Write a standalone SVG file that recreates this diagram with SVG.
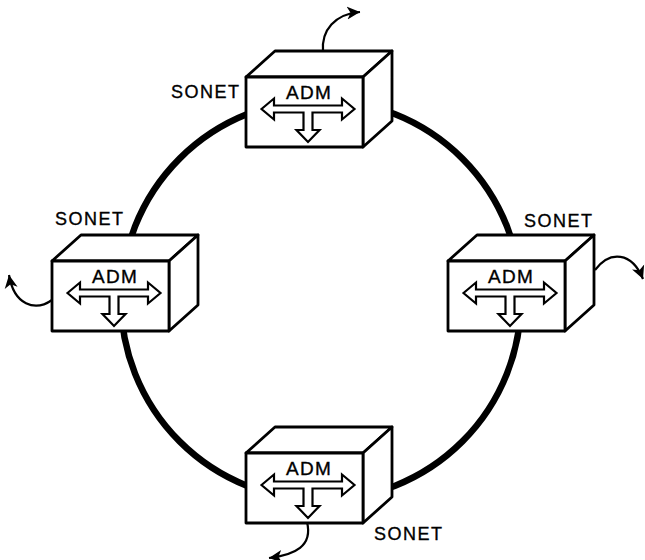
<svg xmlns="http://www.w3.org/2000/svg" xmlns:xlink="http://www.w3.org/1999/xlink" width="645" height="560" viewBox="0 0 645 560">
  <style>
    .ring { fill: none; stroke: #000; stroke-width: 6.5; }
    .face { fill: #fff; stroke: #000; stroke-width: 2.8; stroke-linejoin: round; }
    .flow { fill: #fff; stroke: #000; stroke-width: 2.2; stroke-linejoin: miter; }
    .drop { fill: none; stroke: #000; stroke-width: 2.2; }
    .adm { font-family: "Liberation Sans", Arial, sans-serif; font-size: 19px; letter-spacing: 1.3px; text-anchor: middle; fill: #000; stroke: #000; stroke-width: 0.35; }
    .lbl { font-family: "Liberation Sans", Arial, sans-serif; font-size: 18px; letter-spacing: 1.5px; fill: #000; stroke: #000; stroke-width: 0.35; }
  </style>
  <defs>
    <marker id="tip" markerUnits="userSpaceOnUse" markerWidth="16" markerHeight="14" refX="13" refY="7" orient="auto">
      <path d="M0,0.5 L13,7 L0,13.5 L3.5,7 Z" fill="#000"/>
    </marker>
    <!-- ADM cube: front face top-left at (0,0) -->
    <g id="cube">
      <polygon class="face" points="0,0 29,-26 146,-26 117,0"/>
      <polygon class="face" points="117,0 146,-26 146,44 117,70"/>
      <rect class="face" x="0" y="0" width="117" height="70"/>
      <path class="flow" d="M15.5,32 L28,21.5 L28,28.5 L96,28.5 L96,21.5 L108.5,32 L96,42.5 L96,35.5 L66.5,35.5 L66.5,53 L73.5,53 L62,65 L50.5,53 L57.5,53 L57.5,35.5 L28,35.5 L28,42.5 Z"/>
    </g>
  </defs>

  <!-- fibre ring and tributary drops -->
  <g id="connectors">
    <circle class="ring" cx="321" cy="300" r="200"/>
    <path class="drop" d="M323,52 C321,30 335,14 360,12" marker-end="url(#tip)"/>
    <path class="drop" d="M52,300 C35,312 14,305 9,275" marker-end="url(#tip)"/>
    <path class="drop" d="M595,270 C610,250 632,252 643,279" marker-end="url(#tip)"/>
    <path class="drop" d="M307,522 C313,546 295,555 269,558" marker-end="url(#tip)"/>
  </g>

  <g id="adm-top">
    <use xlink:href="#cube" href="#cube" x="246" y="77"/>
    <text class="adm" x="309" y="99">ADM</text>
    <text class="lbl" x="171" y="98">SONET</text>
  </g>

  <g id="adm-left">
    <use xlink:href="#cube" href="#cube" x="52" y="261"/>
    <text class="adm" x="115" y="283">ADM</text>
    <text class="lbl" x="55" y="225">SONET</text>
  </g>

  <g id="adm-right">
    <use xlink:href="#cube" href="#cube" x="448" y="261"/>
    <text class="adm" x="511" y="283">ADM</text>
    <text class="lbl" x="524" y="227">SONET</text>
  </g>

  <g id="adm-bottom">
    <use xlink:href="#cube" href="#cube" x="246" y="453"/>
    <text class="adm" x="309" y="475">ADM</text>
    <text class="lbl" x="374" y="540">SONET</text>
  </g>
</svg>
